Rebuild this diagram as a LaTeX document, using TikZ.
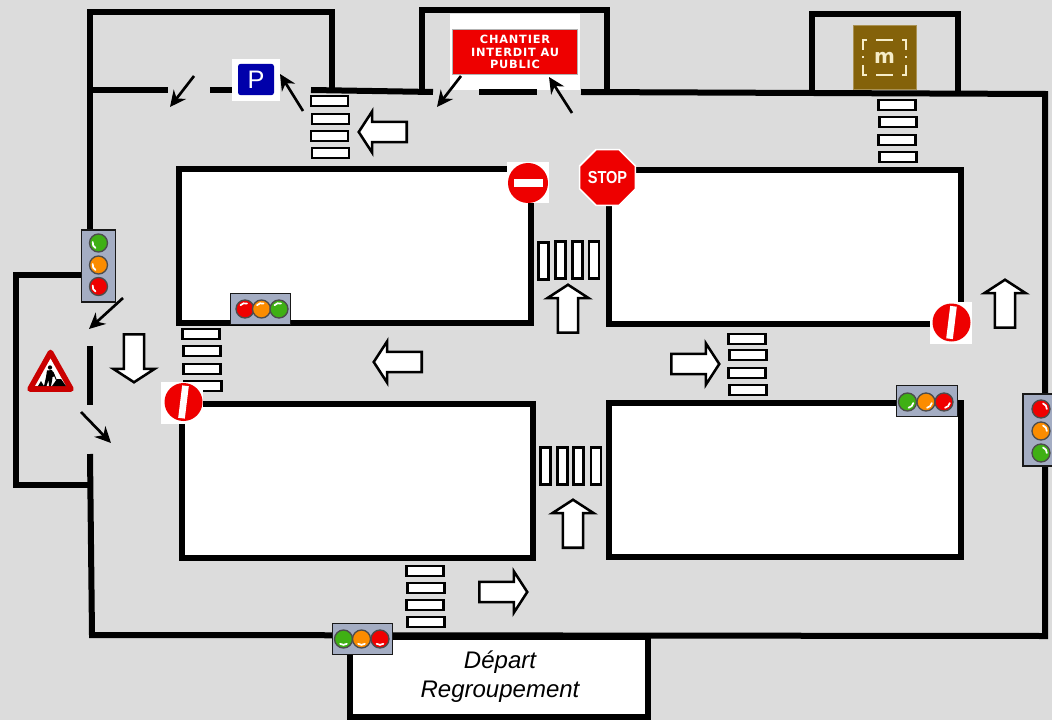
\documentclass[tikz,border=0pt]{standalone}
\usepackage{fontspec}
\setmainfont{Liberation Sans}
\newfontfamily\signfont{DejaVu Sans}
\newfontfamily\chantierfont[LetterSpace=7]{DejaVu Sans}
\usepackage{xcolor}
\usetikzlibrary{calc,arrows.meta,positioning,shapes.geometric,shapes.arrows}
\definecolor{groundg}{HTML}{DCDCDC}
\definecolor{panelg}{HTML}{A4ADC3}
\definecolor{signr}{HTML}{EE0000}
\definecolor{signb}{HTML}{0000AA}
\definecolor{metrob}{HTML}{84620A}
\definecolor{metroc}{HTML}{F6EDC8}
\definecolor{lampg}{HTML}{3FB014}
\definecolor{lampo}{HTML}{FB8C00}
\definecolor{lampr}{HTML}{F00000}
\tikzset{
  wall/.style={line width=4.5pt,draw=black,miter limit=10},
  blockn/.style={draw=black,fill=white,line width=4.5pt,inner sep=0pt},
  stripe/.style={draw=black,fill=white,line width=1.9pt,inner sep=0pt,minimum width=27.75pt,minimum height=7.2pt},
  stripev/.style={stripe,minimum width=7.2pt,minimum height=27.75pt},
  bigarrow/.style={single arrow,draw=black,fill=white,line width=1.9pt,inner xsep=0pt,inner ysep=6.6pt,minimum height=36pt,single arrow head extend=8pt,single arrow tip angle=114},
  smallar/.style={-{Stealth[length=12pt,width=11.5pt]},line width=2pt,black},
  panelv/.style={draw=black!90,fill=panelg,line width=.9pt,inner sep=0pt,minimum width=25.5pt,minimum height=54pt},
  panelh/.style={draw=black!90,fill=panelg,line width=.9pt,inner sep=0pt,minimum width=45.5pt,minimum height=23.5pt},
  lamp/.style={circle,draw=black!70,line width=1pt,inner sep=0pt,minimum size=13.5pt},
  glint/.style={white,line width=1.3pt,line cap=round},
  patch/.style={fill=white,draw=none,inner sep=0pt},
  nopass/.style={circle,fill=signr,inner sep=0pt,minimum size=28.5pt}
}
\begin{document}
\begin{tikzpicture}[x=0.75pt,y=-0.75pt]
\useasboundingbox (0,0) rectangle (1052,720);
\fill[groundg] (0,0) rectangle (1052,720);
% walls
\draw[wall] (90,230)--(90,90)--(168,90);
\draw[wall] (210,90)--(248,90);
\draw[wall] (90,90)--(90,12)--(332,12)--(332,90);
\draw[wall] (311,90)--(433,92);
\draw[wall] (422,92)--(422,10.5)--(607,10.5)--(607,92);
\draw[wall] (812,92)--(812,14)--(958,14)--(958,92);
\draw[wall] (90,275)--(16,275)--(16,485)--(90,485);
\draw[wall] (90,228)--(90,302);
\draw[wall] (90,346)--(90,405);
\node[patch,minimum width=130pt*0.75,minimum height=76pt*0.75] (chantierbg) at (515,52.5) {};
\draw[wall] (479,92)--(537,92);
\draw[wall] (581,92)--(1045,94)--(1045,636)--(92,635)--(90,454);
% blocks
\node[blockn,minimum width=264pt,minimum height=115.5pt] (bloca) at (355,246) {};
\node[blockn,minimum width=264.5pt,minimum height=115.5pt] (blocb) at (785,247) {};
\node[blockn,minimum width=263pt,minimum height=115.5pt] (blocc) at (357.5,481) {};
\node[blockn,minimum width=264pt,minimum height=115.5pt] (blocd) at (785,480) {};
\node[blockn,minimum width=224pt,minimum height=60pt] (depart) at (499,677) {};
\node[font=\fontsize{18pt}{21.7pt}\selectfont\itshape,align=center] (departtxt) at (500,677) {Départ\\Regroupement};
% crossings
\foreach \yy/\xx/\l in {101/329.5/1,119/330.5/2,136/329.5/3,153/330.5/4}{\node[stripe] (cra\l) at (\xx,\yy) {};}
\foreach \yy/\xx/\l in {105/897/1,122/898/2,140/897/3,157/898/4}{\node[stripe] (crb\l) at (\xx,\yy) {};}
\foreach \yy/\xx/\l in {334/201/1,351/202/2,369/202/3,386/203/4}{\node[stripe] (crc\l) at (\xx,\yy) {};}
\foreach \yy/\xx/\l in {339/747/1,355/748/2,373/747/3,390/748/4}{\node[stripe] (crd\l) at (\xx,\yy) {};}
\foreach \yy/\xx/\l in {571/425/1,588/426/2,605/425/3,622/426/4}{\node[stripe] (cre\l) at (\xx,\yy) {};}
\foreach \xx/\yy/\l in {543.5/261/1,560.5/260/2,577.5/260/3,594/260/4}{\node[stripev] (crf\l) at (\xx,\yy) {};}
\foreach \xx/\yy/\l in {545.5/466/1,562.5/466/2,578.5/466/3,596/466/4}{\node[stripev] (crg\l) at (\xx,\yy) {};}
% big arrows
\node[bigarrow,rotate=180] (flowa) at (386,132) {};
\node[bigarrow,rotate=180] (flowb) at (401,362) {};
\node[bigarrow,rotate=270] (flowc) at (134,355) {};
\node[bigarrow,rotate=90] (flowd) at (568,312) {};
\node[bigarrow] (flowe) at (692,364) {};
\node[bigarrow,rotate=90] (flowf) at (1005,307) {};
\node[bigarrow,rotate=90] (flowg) at (573,527) {};
\node[bigarrow] (flowh) at (500,592) {};
% signs
\node[patch,minimum width=36pt,minimum height=31.5pt] (parkbg) at (256,80) {};
\node[fill=signb,rounded corners=2pt,inner sep=0pt,minimum width=27pt,minimum height=23.5pt,font=\fontsize{19pt}{19pt}\selectfont,text=white] (park) at (256,79.5) {P};
\node[fill=signr,draw=black!30,line width=.6pt,inner sep=0pt,minimum width=94pt,minimum height=33.5pt,align=center,text=white,font=\chantierfont\bfseries\fontsize{8.5pt}{9.4pt}\selectfont] (chantier) at (515,52) {CHANTIER\\INTERDIT AU\\PUBLIC};
\node[patch,minimum size=31pt] (nogobg) at (528,182.5) {};
\node[circle,fill=signr,inner sep=0pt,minimum size=30pt] (nogo) at (528,183) {};
\node[patch,minimum width=21.5pt,minimum height=5.8pt] (nogobar) at (528.5,183) {};
\node[regular polygon,regular polygon sides=8,draw=white,fill=signr,line width=1.2pt,inner sep=0pt,minimum size=41.5pt,text=white,font=\bfseries\fontsize{13pt}{13pt}\selectfont] (stopn) at (607.5,177.5) {\scalebox{.84}[1]{STOP}};
\node[patch,minimum size=31.5pt] (passabg) at (182,403) {};
\node[nopass] (passa) at (183.5,402) {};
\node[patch,rotate=-7,minimum width=5pt,minimum height=24.5pt] (passabar) at (183.5,402) {};
\node[patch,minimum size=31.5pt] (passbbg) at (951,323) {};
\node[nopass] (passb) at (951.5,322.5) {};
\node[patch,rotate=-7,minimum width=5pt,minimum height=24.5pt] (passbbar) at (951.5,322.5) {};
\node[fill=metrob,draw=metrob!70!white,line width=.5pt,inner sep=0pt,minimum size=47.5pt,text=metroc,font=\signfont\bfseries\fontsize{15pt}{15pt}\selectfont] (metro) at (884.5,57.5) {m};
\draw[metroc,line width=1.1pt] (876,40)--(893,40) (876,75)--(893,75);
\draw[metroc,line width=1.1pt] (867,40)--(863,40)--(863,50) (863,65)--(863,75)--(867,75);
\draw[metroc,line width=1.1pt] (902,40)--(906,40)--(906,50) (906,65)--(906,75)--(902,75);
\draw[metroc,line width=1.1pt] (863,56)--(863,58) (906,56)--(906,58);
% road works
\fill[white,draw=signr!85!black,line width=4.2pt,line join=round] (50.5,352.5)--(30,389)--(71,389)--cycle;
\fill[black] (50,367.5) circle[radius=1.6pt];
\fill[black] (47,370.5)--(52,370)--(55,376)--(52.5,377)--(52,381)--(51,386)--(49,386)--(48.5,380)--(46.5,386)--(44,386)--(46,377)--cycle;
\fill[black] (52,386)--(57,379)--(61,379)--(66,386)--cycle;
\fill[black] (38,386)--(41,381)--(44,386)--cycle;
\draw[black,line width=.7pt] (53,372)--(58,384);
% small arrows
\foreach \i/\ax/\ay/\bx/\by in {a/194/76/170/107,b/303/111/280/74,c/461/76/437/107,d/572/113/549/77,e/123/298/89/329,f/81/412/111/443}{
  \coordinate (from\i) at (\ax,\ay);
  \coordinate (to\i) at (\bx,\by);
  \draw[smallar] (from\i)--(to\i);
}
% traffic lights
\node[panelv] (feua) at (98.5,266) {};
\node[panelv] (feub) at (1040,430) {};
\node[panelh] (feuc) at (260.5,309) {};
\node[panelh] (feud) at (927,401) {};
\node[panelh] (feue) at (362.5,639) {};
\foreach \xx/\yy/\c/\a/\l in {98.5/243/lampg/170/a1,98.5/265/lampo/170/a2,98.5/286.5/lampr/170/a3,
  1041/409/lampr/0/b1,1041/431/lampo/0/b2,1041/453/lampg/0/b3,
  245/309/lampr/70/c1,261.5/309/lampo/70/c2,279/309/lampg/70/c3,
  907.5/402/lampg/280/d1,926/402/lampo/280/d2,944/402/lampr/280/d3,
  343.5/639/lampg/235/e1,361.5/639/lampo/235/e2,380/639/lampr/235/e3}{
  \node[lamp,fill=\c] (lamp\l) at (\xx,\yy) {};
  \draw[glint] (lamp\l.center) ++(\a:4.4pt) arc[start angle=\a,delta angle=70,radius=4.4pt];
}
\end{tikzpicture}
\end{document}
